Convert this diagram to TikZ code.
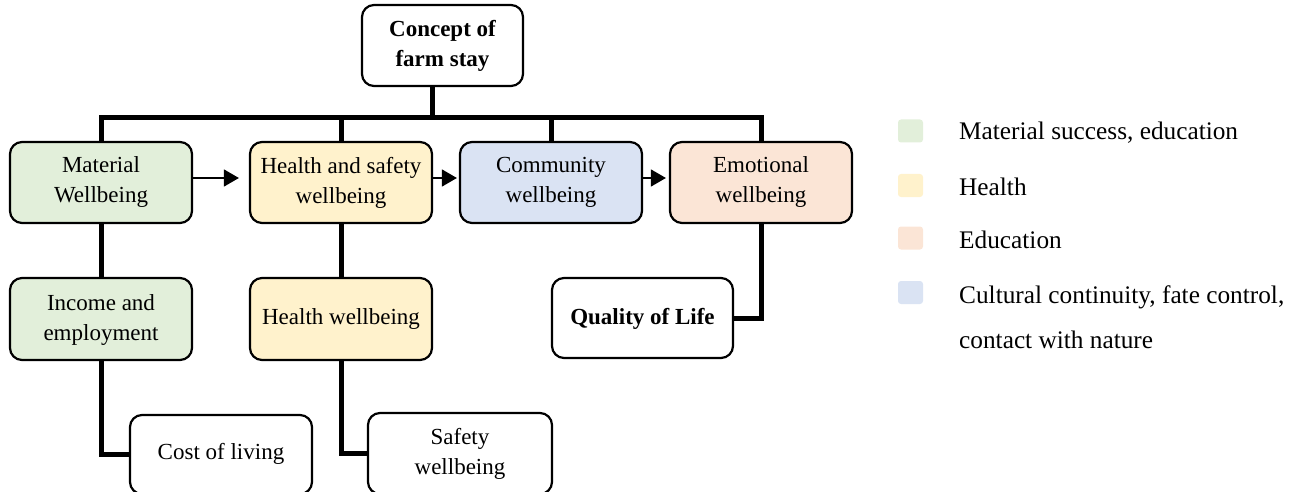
\documentclass[tikz,border=0pt]{standalone}
\usepackage{fontspec}
\setmainfont{Liberation Serif}
\usetikzlibrary{arrows.meta}
\definecolor{cgreen}{HTML}{E2EFDA}
\definecolor{cyellow}{HTML}{FFF2CC}
\definecolor{cblue}{HTML}{DAE3F3}
\definecolor{cpeach}{HTML}{FBE5D6}
\newcommand{\liftx}[2]{\raisebox{#1}{\begin{tabular}{@{}c@{}}#2\end{tabular}}}
\begin{document}
\begin{tikzpicture}[x=1pt,y=-1pt,
  box/.style={draw=black, line width=2.2pt, rounded corners=12pt, align=center,
    font=\fontsize{23}{30}\selectfont, inner sep=0pt, minimum width=182pt, minimum height=81pt},
  bus/.style={line width=5pt},
  flow/.style={line width=1.4pt, -{Triangle[length=15pt,width=17pt]}},
  legsq/.style={draw=none, rounded corners=3pt, minimum width=25pt, minimum height=23pt, inner sep=0pt},
  legtxt/.style={anchor=west, inner sep=0pt, align=left, font=\fontsize{25.3}{45}\selectfont}]
\useasboundingbox (0,0) rectangle (1307,492);

% boxes
\node[box, minimum width=161pt, font=\bfseries\fontsize{23}{30}\selectfont] (top) at (442.5,45.5) {Concept of\\farm stay};
\node[box, fill=cgreen] (mat) at (101,182.5) {Material\\Wellbeing};
\node[box, fill=cyellow] (hs) at (341,182.5) {Health and safety\\wellbeing};
\node[box, fill=cblue] (com) at (551,182.5) {Community\\wellbeing};
\node[box, fill=cpeach] (emo) at (761,182.5) {Emotional\\wellbeing};
\node[box, fill=cgreen, minimum height=82pt] (inc) at (101,319) {\liftx{6pt}{Income and\\employment}};
\node[box, fill=cyellow, minimum height=82pt] (hw) at (341,319) {\liftx{9pt}{Health wellbeing}};
\node[box, minimum width=181pt, minimum height=80pt, font=\bfseries\fontsize{23}{30}\selectfont] (qol) at (642.5,318) {\liftx{8pt}{Quality of Life}};
\node[box, minimum height=79pt] (cost) at (221,454.5) {\liftx{11.5pt}{Cost of living}};
\node[box, minimum width=184pt, minimum height=81pt] (safe) at (460,453.5) {\liftx{4.5pt}{Safety\\wellbeing}};

% tree connectors
\coordinate (j) at (432,118);
\draw[bus] (top.south -| j) -- (j);
\draw[bus] (mat.north) |- (j) -| (emo.north);
\draw[bus] (hs.north) -- (hs.north |- j);
\draw[bus] (com.north) -- (com.north |- j);
\draw[bus] (mat.south) -- (inc.north);
\draw[bus] (hs.south) -- (hw.north);
\draw[bus] (inc.south) |- (cost.west);
\draw[bus] (hw.south) |- (safe.west);
\draw[bus] (emo.south) |- (qol.east);

% flow arrows
\draw[flow, shorten >=10pt] ([yshift=4.5pt]mat.east) -- ([yshift=4.5pt]hs.west);
\draw[flow, shorten >=2pt] ([yshift=4.5pt]hs.east) -- ([yshift=4.5pt]com.west);
\draw[flow, shorten >=3pt] ([yshift=4.5pt]com.east) -- ([yshift=4.5pt]emo.west);

% legend
\node[legsq, fill=cgreen] (l1) at (910.5,131) {};
\node[legsq, fill=cyellow] (l2) at (910.5,185.5) {};
\node[legsq, fill=cpeach] (l3) at (910.5,238) {};
\node[legsq, fill=cblue] (l4) at (910.5,292.5) {};
\node[legtxt] (t1) at (959,133) {Material success, education};
\node[legtxt] (t2) at (959,187) {Health};
\node[legtxt] (t3) at (959,240) {Education};
\node[legtxt] (t4) at (959,317) {Cultural continuity, fate control,\\contact with nature};
\end{tikzpicture}
\end{document}
